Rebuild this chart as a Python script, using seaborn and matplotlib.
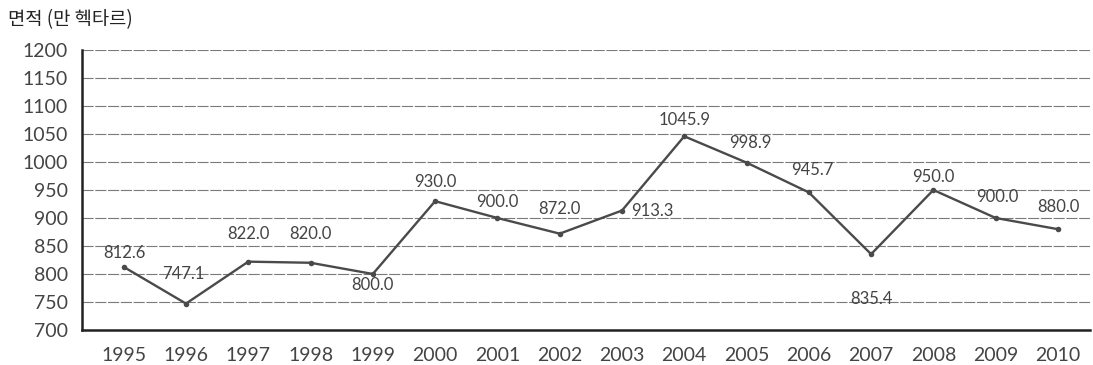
import matplotlib
matplotlib.use("Agg")
import matplotlib.pyplot as plt
import seaborn as sns
import pandas as pd

years = [1995, 1996, 1997, 1998, 1999, 2000, 2001, 2002,
         2003, 2004, 2005, 2006, 2007, 2008, 2009, 2010]
area = [812.6, 747.1, 822.0, 820.0, 800.0, 930.0, 900.0, 872.0,
        913.3, 1045.9, 998.9, 945.7, 835.4, 950.0, 900.0, 880.0]
y_ticks = [700, 750, 800, 850, 900, 950, 1000, 1050, 1100, 1150, 1200]
title_text = "면적 (만 헥타르)"

# label offsets in pixels (dx, dy) and horizontal alignment
label_pos = [(1, 14, "center"), (-3, 30, "center"), (0, 28, "center"), (0, 29, "center"),
             (0, -11, "center"), (0, 19, "center"), (0, 16, "center"), (0, 25, "center"),
             (9, 0, "left"), (0, 16, "center"), (4, 20, "center"), (3, 22, "center"),
             (0, -45, "center"), (0, 13, "center"), (2, 21, "center"), (0, 22, "center")]

df = pd.DataFrame({"year": years, "area": area})

sns.set_theme(style="white")
plt.rcParams["font.family"] = ["Lato", "DejaVu Sans"]

fig = plt.figure(figsize=(10.93, 3.65), dpi=100)
ax = fig.add_axes([0.075, 0.096, 0.922, 0.767])

ink = "#444444"
sns.lineplot(data=df, x="year", y="area", ax=ax, color="#4a4a4a", linewidth=1.7,
             marker="o", markersize=4, markeredgewidth=0, markerfacecolor="#4a4a4a")

for (yr, v), (dx, dy, ha) in zip(zip(years, area), label_pos):
    ax.annotate(f"{v:.1f}", (yr, v), xytext=(dx, dy), textcoords="offset pixels",
                ha=ha, va="center", fontsize=12, color=ink)

ax.set_xlim(1994.33, 2010.51)
ax.set_ylim(700, 1200)
ax.set_yticks(y_ticks)
ax.set_xticks(years)
ax.set_xticklabels([str(y) for y in years])
ax.set_xlabel("")
ax.set_ylabel("")
ax.yaxis.grid(True, color="#7a7a7a", linewidth=0.8, linestyle=(0, (10, 1.5)))
ax.xaxis.grid(False)
for s in ["top", "right"]:
    ax.spines[s].set_visible(False)
for s in ["left", "bottom"]:
    ax.spines[s].set_color("#222222")
    ax.spines[s].set_linewidth(1.8)
ax.tick_params(axis="both", length=0, labelsize=14, labelcolor=ink)
ax.tick_params(axis="x", pad=12)
ax.tick_params(axis="y", pad=10)

fig.text(0.007, 0.945, title_text, fontsize=13.5, color="#222222",
         family=["Noto Sans CJK KR", "DejaVu Sans"], va="center", ha="left")

fig.savefig("out.png", dpi=100, facecolor="white")
